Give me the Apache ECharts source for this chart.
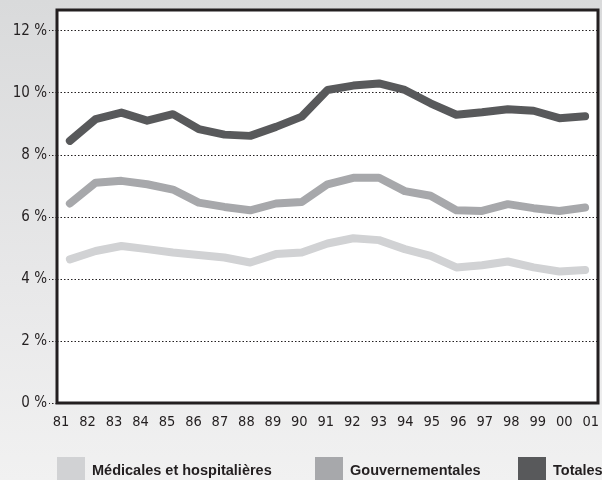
<!DOCTYPE html>
<html><head><meta charset="utf-8">
<script src="https://cdn.jsdelivr.net/npm/echarts@6/dist/echarts.min.js"></script>
<style>
html,body{margin:0;padding:0;}
#c{width:602px;height:480px;background:linear-gradient(180deg,#d9dadb 0%,#e8e8e9 60%,#f1f1f1 100%);}
</style></head>
<body><div id="c"></div>
<script>
const years = ['81','82','83','84','85','86','87','88','89','90','91','92','93','94','95','96','97','98','99','00','01'];
const medicales = [4.63,4.90,5.06,4.96,4.85,4.77,4.69,4.53,4.80,4.85,5.14,5.31,5.25,4.96,4.74,4.37,4.44,4.56,4.37,4.24,4.29];
const gouvernementales = [6.43,7.10,7.16,7.05,6.88,6.46,6.32,6.21,6.43,6.48,7.05,7.26,7.26,6.83,6.68,6.21,6.19,6.41,6.28,6.19,6.30];
const totales = [8.45,9.15,9.36,9.10,9.31,8.83,8.65,8.61,8.90,9.23,10.09,10.23,10.30,10.09,9.66,9.29,9.37,9.47,9.42,9.18,9.24];
const yTicks = [0,2,4,6,8,10,12];
const names = ['Médicales et hospitalières','Gouvernementales','Totales'];
const colors = ['#d1d2d4','#a7a8ab','#58595b'];

const chart = echarts.init(document.getElementById('c'), null, {renderer:'canvas'});
const font = '"Liberation Sans Narrow","DejaVu Sans Condensed","Roboto Condensed",sans-serif';
const bfont = '"Liberation Sans","Arial",sans-serif';
function legendFor(i, left){
  return {data:[{name:names[i], icon:'rect'}], left:left, top:457, itemWidth:28, itemHeight:28, itemGap:0, padding:0,
    selectedMode:false, textStyle:{fontFamily:bfont, fontSize:14.5, fontWeight:'bold', color:'#231f20', padding:[0,0,0,2]}};
}
chart.setOption({
  animation:false,
  grid:[
    {left:57, right:4, top:10, bottom:77, show:true, backgroundColor:'#ffffff', borderColor:'#231f20', borderWidth:3},
    {left:61, right:11, top:10, bottom:77, show:false}
  ],
  legend:[legendFor(0,57), legendFor(1,315), legendFor(2,518)],
  xAxis:[
    {type:'category', data:years, boundaryGap:true, gridIndex:0,
      axisLine:{show:false}, axisTick:{show:false}, axisLabel:{show:false}},
    {type:'category', data:years, boundaryGap:false, gridIndex:1,
      axisLine:{show:false}, axisTick:{show:false}, splitLine:{show:false},
      axisLabel:{fontFamily:font, fontSize:14.5, color:'#231f20', margin:12}}
  ],
  yAxis:[
    {type:'value', min:0, max:12.667, interval:2, gridIndex:0,
      axisLine:{show:false},
      axisTick:{show:true, length:8, customValues:yTicks, lineStyle:{type:[1.5,2], color:'#231f20', width:1}},
      splitLine:{show:true, lineStyle:{type:[1.5,2], color:'#231f20', width:1}},
      axisLabel:{fontFamily:font, fontSize:15, color:'#231f20', margin:10,
        formatter:function(v){ return yTicks.indexOf(v) >= 0 ? v + ' %' : ''; }}},
    {type:'value', min:0, max:12.667, gridIndex:1, show:false}
  ],
  series:[
    {name:names[0], type:'line', data:medicales, symbol:'none', lineStyle:{width:8, color:colors[0], cap:'round', join:'round'}, itemStyle:{color:colors[0]}},
    {name:names[1], type:'line', data:gouvernementales, symbol:'none', lineStyle:{width:8, color:colors[1], cap:'round', join:'round'}, itemStyle:{color:colors[1]}},
    {name:names[2], type:'line', data:totales, symbol:'none', lineStyle:{width:8, color:colors[2], cap:'round', join:'round'}, itemStyle:{color:colors[2]}}
  ]
});
</script></body></html>
